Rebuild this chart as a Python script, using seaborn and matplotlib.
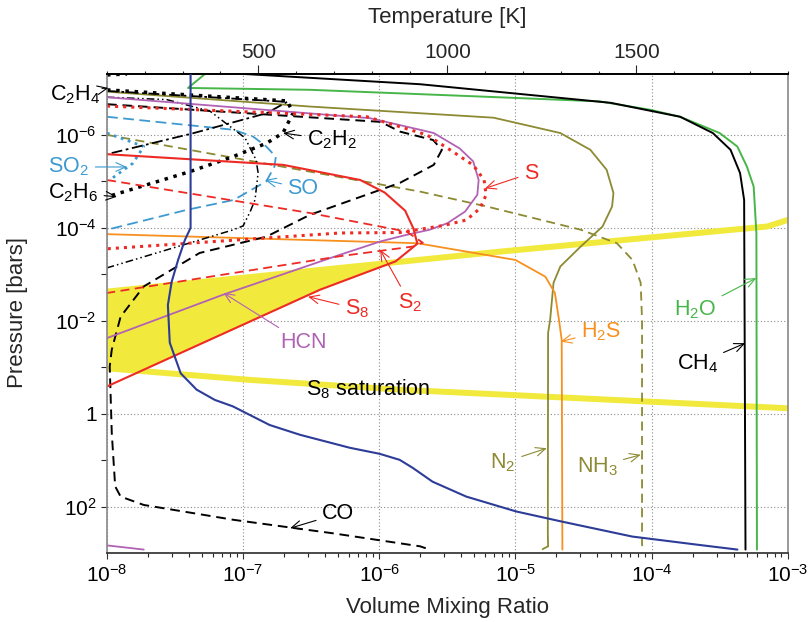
import numpy as np
import matplotlib
matplotlib.use('Agg')
import matplotlib.pyplot as plt
import matplotlib.ticker as mticker
import seaborn as sns

# all profiles stored as log10(volume mixing ratio) vs log10(pressure / bar)
h2o_lx = [-7.28, -7.405, -6.51, -5.04, -4.38, -4.01, -3.79, -3.50, -3.37, -3.30, -3.25, -3.23, -3.226]
h2o_lp = [-7.31, -7.01, -6.97, -6.80, -6.72, -6.54, -6.39, -6.04, -5.75, -5.32, -4.89, -3.89, 2.92]

ch4_lx = [-6.99, -5.70, -4.30, -3.79, -3.55, -3.42, -3.35, -3.32, -3.31]
ch4_lp = [-7.31, -7.09, -6.69, -6.39, -6.04, -5.68, -5.18, -4.60, 2.92]

n2_lx = [-8.0, -6.51, -5.16, -4.67, -4.45, -4.33, -4.28, -4.29, -4.36, -4.52, -4.67, -4.72, -4.745, -4.76, -4.762, -4.76, -4.80]
n2_lp = [-6.93, -6.61, -6.37, -6.04, -5.68, -5.25, -4.75, -4.46, -4.03, -3.60, -3.17, -2.82, -2.02, -1.74, 2.56, 2.85, 2.91]

nh3_lx = [-8.0, -5.70, -5.21, -4.52, -4.255, -4.14, -4.08, -4.07, -4.07, -4.05]
nh3_lp = [-6.0, -4.78, -4.46, -3.96, -3.67, -3.31, -2.82, -2.02, 2.82, 2.91]

hcn_lx = [-8.0, -6.07, -5.70, -5.60, -5.41, -5.31, -5.27, -5.28, -5.37, -5.50, -5.63, -5.80, -5.99, -6.29, -7.15, -8.0]
hcn_lp = [-6.81, -6.36, -6.11, -6.04, -5.71, -5.43, -5.03, -4.71, -4.35, -4.10, -3.96, -3.85, -3.71, -3.42, -2.56, -1.63]
hcn_deep_lx = [-8.0, -7.73]
hcn_deep_lp = [2.83, 2.92]

s_lx = [-8.0, -6.09, -5.65, -5.46, -5.31, -5.23, -5.215, -5.26, -5.36, -5.53, -5.85, -6.29, -8.0]
s_lp = [-6.62, -6.39, -6.0, -5.64, -5.35, -5.03, -4.71, -4.42, -4.17, -4.05, -3.90, -3.89, -3.55]

s2_lx = [-8.0, -6.51, -5.80, -5.68, -5.75, -6.29, -8.0]
s2_lp = [-5.03, -4.32, -3.92, -3.68, -3.60, -3.39, -2.60]

s8_lx = [-8.0, -6.705, -6.14, -5.96, -5.81, -5.75, -5.72, -5.88, -6.435, -8.0]
s8_lp = [-5.585, -5.355, -5.03, -4.76, -4.37, -3.99, -3.66, -3.28, -2.67, -0.59]

h2s_lx = [-8.0, -5.72, -5.0, -4.78, -4.71, -4.68, -4.66, -4.655]
h2s_lp = [-3.865, -3.67, -3.31, -2.95, -2.60, -2.02, -1.59, 2.92]

so_lx = [-8.0, -7.07, -6.925, -6.83, -6.76, -6.77, -6.83, -7.07, -7.41, -8.0]
so_lp = [-6.39, -6.11, -5.96, -5.75, -5.53, -5.32, -5.0, -4.60, -4.39, -3.96]

so2_lx = [-8.0, -7.73, -7.81, -7.98]
so2_lp = [-6.04, -5.75, -5.39, -5.03]

co_lx = [-8.0, -5.99, -5.847, -5.605, -5.54, -5.60, -5.847, -6.51, -6.83, -7.32, -7.73, -7.90, -7.965,
         -7.98, -7.965, -7.94, -7.90, -7.73, -7.07, -6.34, -5.70, -5.64]
co_lp = [-6.66, -6.28, -6.07, -5.89, -5.68, -5.355, -4.97, -4.28, -3.81, -3.46, -2.74, -2.09, -1.38,
         -1.02, 0.41, 1.56, 1.78, 1.96, 2.28, 2.57, 2.85, 2.91]

c2h2_lx = [-8.0, -6.677, -6.633, -6.707, -6.827, -7.074, -7.39, -8.0]
c2h2_lp = [-6.968, -6.731, -6.473, -6.043, -5.822, -5.533, -5.211, -4.667]
c2h2_top_lx = [-8.0, -7.853]
c2h2_top_lp = [-7.29, -7.31]

c2h4_lx = [-8.0, -6.677, -6.827, -7.366, -8.0]
c2h4_lp = [-6.946, -6.71, -6.467, -6.037, -5.585]

c2h6_lx = [-8.0, -7.561, -7.243, -6.986, -6.905, -6.89, -6.913, -6.949, -7.0, -7.074, -7.317, -8.0]
c2h6_lp = [-6.811, -6.759, -6.51, -5.935, -5.462, -5.183, -4.602, -4.344, -4.043, -3.957, -3.742, -3.140]

# S8 saturation curve, upper and lower branch
sat_up_lx = [-3.0, -3.15, -5.11, -8.0]
sat_up_lp = [-4.17, -4.03, -3.49, -2.63]
sat_lo_lx = [-8.0, -6.95, -5.85, -3.0]
sat_lo_lp = [-0.98, -0.73, -0.52, -0.12]

# temperature profile (top axis)
temp_k = [321, 321, 306, 288, 271, 261, 266, 295, 337, 385, 433, 530, 610, 742, 821, 874, 908, 961,
          1050, 1182, 1304, 1489, 1666, 1767]
temp_lp = [-7.35, -4.0, -3.74, -3.31, -2.84, -2.34, -1.53, -0.87, -0.52, -0.30, -0.16, 0.24, 0.45, 0.73,
           0.86, 0.99, 1.16, 1.46, 1.78, 2.10, 2.32, 2.64, 2.82, 2.92]

ytick_vals = [1e-6, 1e-4, 1e-2, 1, 1e2]
ytick_labels = [r'$10^{-6}$', r'$10^{-4}$', r'$10^{-2}$', '1', r'$10^{2}$']

red = '#ee2a24'
blue = '#3d9ad1'
navy = '#2d3c98'
green = '#46b649'
olive = '#8c8a32'
purple = '#b262b5'
orange = '#f7901e'
yellow = '#f2e93d'

sns.set_theme(style='ticks')
plt.rcParams['font.family'] = ['Liberation Sans', 'DejaVu Sans']
plt.rcParams['mathtext.fontset'] = 'custom'
plt.rcParams['mathtext.rm'] = 'Liberation Sans'
plt.rcParams['mathtext.it'] = 'Liberation Sans:italic'
plt.rcParams['mathtext.bf'] = 'Liberation Sans:bold'


def draw(ax, lx, lp, **kw):
    sns.lineplot(x=10.0 ** np.asarray(lx), y=10.0 ** np.asarray(lp), sort=False,
                 estimator=None, ax=ax, **kw)


fig = plt.figure(figsize=(8.11, 6.22), dpi=100)
ax = fig.add_axes([107 / 811, 1 - 553.3 / 622, (787.7 - 107) / 811, (553.3 - 74) / 622])
ax.set_xscale('log')
ax.set_yscale('log')

# yellow region where S8 exceeds saturation
lp_grid = np.linspace(-4.2, -0.5, 600)
left_x = np.maximum(np.interp(lp_grid, sat_up_lp, sat_up_lx), np.interp(lp_grid, sat_lo_lp, sat_lo_lx))
s8_branch_lp = s8_lp[6:]
s8_branch_lx = s8_lx[6:]
right_x = np.interp(lp_grid, s8_branch_lp, s8_branch_lx, left=-9, right=-9)
ax.fill_betweenx(10 ** lp_grid, 10 ** left_x, 10 ** right_x, where=right_x > left_x,
                 color=yellow, lw=0, interpolate=True, zorder=1)
draw(ax, sat_up_lx, sat_up_lp, color=yellow, lw=4.3, zorder=1.5)
draw(ax, sat_lo_lx, sat_lo_lp, color=yellow, lw=4.3, zorder=1.5)

dash = (0, (5, 3))
draw(ax, h2o_lx, h2o_lp, color=green, lw=1.4)
draw(ax, ch4_lx, ch4_lp, color='black', lw=1.4)
draw(ax, n2_lx, n2_lp, color=olive, lw=1.3)
draw(ax, nh3_lx, nh3_lp, color=olive, lw=1.3, linestyle=dash)
draw(ax, h2s_lx, h2s_lp, color=orange, lw=1.3)
draw(ax, co_lx, co_lp, color='black', lw=1.4, linestyle=dash)
draw(ax, so_lx, so_lp, color=blue, lw=1.3, linestyle=(0, (6, 3)))
draw(ax, so2_lx, so2_lp, color=blue, lw=2.0, linestyle=':')
draw(ax, c2h4_lx, c2h4_lp, color='black', lw=1.3, linestyle=(0, (6, 2, 1.5, 2)))
draw(ax, c2h6_lx, c2h6_lp, color='black', lw=1.1, linestyle=(0, (5, 2, 1, 2, 1, 2)))
draw(ax, c2h2_lx, c2h2_lp, color='black', lw=2.5, linestyle=':')
draw(ax, c2h2_top_lx, c2h2_top_lp, color='black', lw=2.5, linestyle=':')
draw(ax, hcn_lx, hcn_lp, color=purple, lw=1.3)
draw(ax, hcn_deep_lx, hcn_deep_lp, color=purple, lw=1.3)
draw(ax, s_lx, s_lp, color=red, lw=2.2, linestyle=':')
draw(ax, s2_lx, s2_lp, color=red, lw=1.3, linestyle=dash)
draw(ax, s8_lx, s8_lp, color=red, lw=1.5)

ax.set_xlim(1e-8, 1e-3)
ax.set_ylim(1e3, 10 ** -7.31)
ax.yaxis.set_major_locator(mticker.FixedLocator(ytick_vals))
ax.yaxis.set_major_formatter(mticker.FixedFormatter(ytick_labels))
ax.yaxis.set_minor_locator(mticker.FixedLocator([1e-7, 1e-5, 1e-3, 1e-1, 1e1]))
ax.yaxis.set_minor_formatter(mticker.NullFormatter())
ax.xaxis.set_major_locator(mticker.LogLocator(base=10, numticks=10))
ax.xaxis.set_minor_locator(mticker.LogLocator(base=10, subs=np.arange(2, 10), numticks=20))
ax.xaxis.set_minor_formatter(mticker.NullFormatter())
ax.grid(True, which='major', axis='both', linestyle=(0, (1, 2)), color='#8a8a8a', lw=0.8)
ax.tick_params(axis='x', which='major', direction='out', length=4.5, width=0.8, pad=3,
               labelsize=15, colors='#333333', labelcolor='black', top=False)
ax.tick_params(axis='x', which='minor', direction='out', length=3, width=0.8, top=False)
ax.tick_params(axis='y', which='both', direction='out', length=4, width=0.8, pad=3.5,
               labelsize=15, right=False, labelcolor='black')
for side in ['left', 'right']:
    ax.spines[side].set_color('#888888')
    ax.spines[side].set_linewidth(1.2)
ax.spines['bottom'].set_color('#333333')
ax.spines['top'].set_color('black')
for side in ['top', 'bottom', 'left', 'right']:
    ax.spines[side].set_visible(True)

# temperature profile on the top axis
ax2 = ax.twiny()
ax2.plot(temp_k, 10.0 ** np.asarray(temp_lp), color=navy, lw=1.5, zorder=4)
ax2.set_xlim(100, 1900)
ax2.set_ylim(1e3, 10 ** -7.31)
ax2.xaxis.set_major_locator(mticker.FixedLocator([500, 1000, 1500]))
ax2.xaxis.set_minor_locator(mticker.MultipleLocator(100))
ax2.tick_params(axis='x', which='major', direction='out', length=6.5, width=0.8, pad=2, labelsize=15)
ax2.tick_params(axis='x', which='minor', direction='out', length=2.5, width=0.8)
for side in ['left', 'right', 'bottom']:
    ax2.spines[side].set_visible(False)
ax2.spines['top'].set_color('black')

lab = 15.5
notes = [
    (r'C$_2$H$_4$', 'black', (-8.235, -6.86), (-7.99, -7.01)),
    (r'C$_2$H$_2$', 'black', (-6.347, -5.89), (-6.707, -6.04)),
    (r'SO$_2$', blue, (-8.28, -5.31), (-7.853, -5.31)),
    (r'C$_2$H$_6$', 'black', (-8.25, -4.75), (-7.927, -4.67)),
    ('SO', blue, (-6.56, -4.84), (-6.839, -5.03)),
    ('S', red, (-4.885, -5.18), (-5.223, -4.85)),
    (r'S$_2$', red, (-5.774, -2.38), (-5.994, -3.53)),
    (r'S$_8$', red, (-6.163, -2.26), (-6.523, -2.52)),
    ('HCN', purple, (-6.56, -1.527), (-7.145, -2.60)),
    ('CO', 'black', (-6.303, 2.15), (-6.655, 2.46)),
    (r'N$_2$', olive, (-5.09, 1.05), (-4.77, 0.74)),
    (r'NH$_3$', olive, (-4.40, 1.14), (-4.08, 0.88)),
    (r'H$_2$S', orange, (-4.37, -1.77), (-4.667, -1.555)),
    (r'CH$_4$', 'black', (-3.665, -1.075), (-3.312, -1.52)),
    (r'H$_2$O', green, (-3.68, -2.24), (-3.231, -2.92)),
]
for text, col, (tx, ty), (px, py) in notes:
    ax.annotate(text, xy=(10 ** px, 10 ** py), xytext=(10 ** tx, 10 ** ty), textcoords='data',
                ha='center', va='center', color=col, fontsize=lab, annotation_clip=False, zorder=5,
                arrowprops=dict(arrowstyle='->,head_length=0.45,head_width=0.2', color=col, lw=0.8,
                                shrinkA=2, shrinkB=0))
ax.text(10 ** -6.082, 10 ** -0.54, r'S$_8$ saturation', ha='center', va='center', fontsize=lab,
        color='black', zorder=5)

fig.text(447 / 811, 1 - 18 / 622, 'Temperature [K]', ha='center', va='center', fontsize=16)
fig.text(447 / 811, 1 - 607 / 622, 'Volume Mixing Ratio', ha='center', va='center', fontsize=16)
fig.text(18 / 811, 1 - 313 / 622, 'Pressure [bars]', ha='center', va='center', fontsize=16,
         rotation=90)

fig.savefig('out.png', dpi=100)
